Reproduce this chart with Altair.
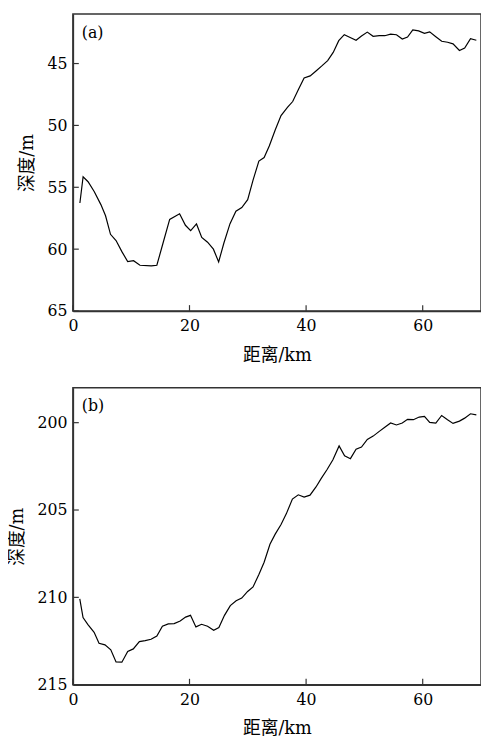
import altair as alt
import pandas as pd

# Panel (a)
dist_a = [1.2, 1.75, 2.6, 3.65, 4.8, 5.6, 6.45, 7.4, 8.4, 9.4, 10.4, 11.5, 13.45, 14.4,
          15.5, 16.6, 18.3, 19.3, 20.2, 21.2, 22.1, 23.1, 24.1, 25.0, 25.9, 26.95, 27.96,
          28.97, 29.98, 30.9, 31.9, 32.8, 33.7, 34.7, 35.7, 36.8, 37.7, 38.66, 39.66,
          40.7, 41.7, 42.7, 43.7, 44.65, 45.6, 46.55, 47.56, 48.57, 49.5, 50.5, 51.5,
          52.55, 53.5, 54.5, 55.5, 56.5, 57.4, 58.3, 59.3, 60.3, 61.2, 62.25, 63.26,
          64.27, 65.2, 66.3, 67.2, 68.2, 69.2]
depth_a = [56.27, 54.15, 54.55, 55.34, 56.4, 57.3, 58.8, 59.3, 60.2, 61.0, 60.93, 61.3,
           61.35, 61.3, 59.44, 57.6, 57.14, 58.07, 58.5, 57.96, 59.05, 59.44, 60.0, 61.03,
           59.5, 57.94, 56.93, 56.64, 56.0, 54.42, 52.88, 52.6, 51.64, 50.37, 49.2, 48.55,
           48.07, 47.12, 46.17, 46.0, 45.6, 45.19, 44.76, 44.1, 43.15, 42.67, 42.9, 43.12,
           42.78, 42.46, 42.8, 42.75, 42.75, 42.62, 42.67, 43.02, 42.86, 42.28, 42.36,
           42.56, 42.44, 42.83, 43.2, 43.28, 43.41, 43.94, 43.75, 42.99, 43.12]

# Panel (b)
dist_b = [1.18, 1.74, 2.58, 3.64, 4.48, 5.5, 6.5, 7.4, 8.4, 9.4, 10.36, 11.4, 12.4, 13.4,
          14.4, 15.35, 16.36, 17.37, 18.4, 19.33, 20.17, 21.1, 22.07, 23.1, 24.15, 25.04,
          26.0, 27.0, 28.0, 28.96, 29.97, 30.9, 31.9, 32.8, 33.8, 34.7, 35.7, 36.6, 37.65,
          38.66, 39.66, 40.67, 41.7, 42.6, 43.6, 44.6, 45.66, 46.6, 47.6, 48.57, 49.5,
          50.5, 51.5, 52.55, 53.5, 54.5, 55.5, 56.5, 57.4, 58.4, 59.4, 60.3, 61.2, 62.25,
          63.25, 64.26, 65.2, 66.3, 67.2, 68.2, 69.2]
depth_b = [210.09, 211.16, 211.56, 212.0, 212.63, 212.72, 213.0, 213.7, 213.71, 213.1,
           212.95, 212.53, 212.48, 212.4, 212.21, 211.65, 211.52, 211.5, 211.35, 211.13,
           211.03, 211.69, 211.54, 211.65, 211.88, 211.73, 211.03, 210.47, 210.19, 210.04,
           209.66, 209.4, 208.69, 207.99, 206.96, 206.38, 205.83, 205.22, 204.37, 204.13,
           204.26, 204.15, 203.68, 203.19, 202.68, 202.12, 201.33, 201.9, 202.06, 201.52,
           201.4, 200.96, 200.77, 200.5, 200.26, 200.02, 200.13, 200.02, 199.81, 199.83,
           199.68, 199.64, 199.98, 200.02, 199.59, 199.83, 200.04, 199.91, 199.74, 199.49,
           199.55]

x_ticks = [0, 20, 40, 60]
ya_ticks = [45, 50, 55, 60, 65]
yb_ticks = [200, 205, 210, 215]
x_domain = [0, 70]
ya_domain = [41, 65]
yb_domain = [198, 215]

x_title = "距离/km"
y_title = "深度/m"
labels = ["(a)", "(b)"]

W, H = 415, 302
FONT = "DejaVu Serif, Noto Sans CJK SC"


def panel(dist, depth, yticks, ydomain, label):
    df = pd.DataFrame({"d": dist, "z": depth})
    xs = alt.Scale(domain=x_domain, nice=False, zero=False)
    ys = alt.Scale(domain=ydomain, reverse=True, nice=False, zero=False)
    xa = alt.Axis(values=x_ticks, ticks=False, labelPadding=7, labelFlush=False,
                  titlePadding=13, grid=False)
    ya = alt.Axis(values=yticks, ticks=False, labelPadding=6, titlePadding=11, grid=False)
    line = alt.Chart(df).mark_line(color="black", strokeWidth=1.2).encode(
        x=alt.X("d:Q", scale=xs, title=x_title, axis=xa),
        y=alt.Y("z:Q", scale=ys, title=y_title, axis=ya),
    )
    yt = alt.Chart(pd.DataFrame({"v": yticks})).mark_rule(color="#333", strokeWidth=1.2).encode(
        y=alt.Y("v:Q", scale=ys, title=y_title, axis=ya),
        x=alt.value(0), x2=alt.value(6),
    )
    xt = alt.Chart(pd.DataFrame({"v": x_ticks})).mark_rule(color="#333", strokeWidth=1.2).encode(
        x=alt.X("v:Q", scale=xs, title=x_title, axis=xa),
        y=alt.value(H), y2=alt.value(H - 6),
    )
    txt = alt.Chart(pd.DataFrame({"t": [label]})).mark_text(
        align="left", baseline="middle", font=FONT, fontSize=16, color="black"
    ).encode(text="t:N", x=alt.value(9), y=alt.value(19))
    return alt.layer(line, yt, xt, txt).properties(width=W, height=H)


chart = alt.vconcat(
    panel(dist_a, depth_a, ya_ticks, ya_domain, labels[0]),
    panel(dist_b, depth_b, yb_ticks, yb_domain, labels[1]),
    spacing=78, bounds="flush",
).properties(
    autosize=alt.AutoSizeParams(type="none"),
    padding={"left": 66, "top": 0, "right": 0, "bottom": 728},
).configure_view(
    stroke="#333", strokeWidth=1.5
).configure_axis(
    domainColor="#333", domainWidth=1.5,
    labelFont=FONT, labelFontSize=16, labelColor="black",
    titleFont=FONT, titleFontSize=18, titleFontWeight="normal", titleColor="black",
)

chart.save("out.html", embed_options={"renderer": "svg", "actions": False})
